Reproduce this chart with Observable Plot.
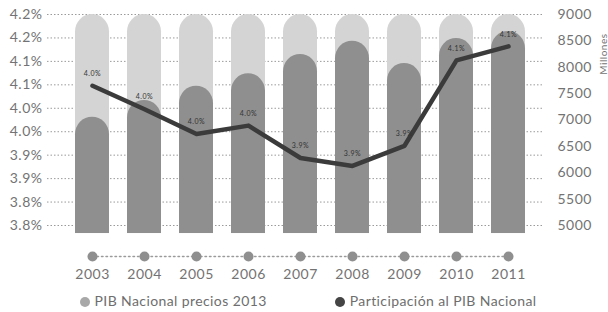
<!DOCTYPE html>
<html><head><meta charset="utf-8">
<script src="https://cdn.jsdelivr.net/npm/d3@7"></script>
<script src="https://cdn.jsdelivr.net/npm/@observablehq/plot@0.6"></script>
<style>
html,body{margin:0;padding:0;background:#fff;}
#chart{width:608px;}
#legend{display:flex;justify-content:center;align-items:center;gap:68px;height:24px;font-family:Lato,sans-serif;font-size:14px;color:#6e6e6e;letter-spacing:0.4px;margin-left:8px;}
#legend span.sw{display:inline-block;width:10px;height:10px;border-radius:50%;margin-right:5px;vertical-align:-1px;}
</style></head>
<body><div id="chart"></div>
<div id="legend"></div>
<script>
// ---- data ----
const years = ["2003","2004","2005","2006","2007","2008","2009","2010","2011"];
const pibMillones = [7053, 7370, 7641, 7876, 8242, 8494, 8071, 8545, 8678];
const participacion = [4.073, 4.023, 3.970, 3.988, 3.919, 3.902, 3.945, 4.127, 4.157];
const participacionLabels = ["4.0%","4.0%","4.0%","4.0%","3.9%","3.9%","3.9%","4.1%","4.1%"];
const leftTicks = [3.775, 3.825, 3.875, 3.925, 3.975, 4.025, 4.075, 4.125, 4.175, 4.225];
const rightTicks = [5000, 5500, 6000, 6500, 7000, 7500, 8000, 8500, 9000];
const seriesNames = ["PIB Nacional precios 2013", "Participación al PIB Nacional"];
const pibMax = 9000;
const pibBase = 4848;

// ---- build ----
const colors = {light:"#d4d4d4", dark:"#8f8f8f", line:"#3b3b3b", text:"#737373"};
const toRight = d3.scaleLinear([leftTicks[0], leftTicks[leftTicks.length-1]], [rightTicks[0], rightTicks[rightTicks.length-1]]);
const data = years.map((year, i) => ({year, pib: pibMillones[i], pct: participacion[i], label: participacionLabels[i]}));
const r = 17.5;

const chart = Plot.plot({
  width: 608,
  height: 288,
  marginLeft: 47,
  marginRight: 65,
  marginTop: 14,
  marginBottom: 63,
  style: {fontFamily: "Lato, sans-serif", fontSize: "14px", color: colors.text, background: "#fff", letterSpacing: "0.5px"},
  x: {type: "band", domain: years, paddingInner: 0.338, paddingOuter: 0.357, align: 0.61},
  y: {domain: [rightTicks[0], rightTicks[rightTicks.length-1]]},
  marks: [
    Plot.ruleY(leftTicks.map(toRight), {stroke: "#9a9a9a", strokeDasharray: "1.5,2", strokeWidth: 1}),
    Plot.barY(data, {x: "year", y1: pibBase, y2: pibMax, fill: colors.light, rx: r}),
    Plot.barY(data, {x: "year", y1: pibBase, y2: 7000, fill: colors.light}),
    Plot.barY(data, {x: "year", y1: pibBase, y2: "pib", fill: colors.dark, rx: r}),
    Plot.barY(data, {x: "year", y1: pibBase, y2: 6500, fill: colors.dark}),
    Plot.line(data, {x: "year", y: d => toRight(d.pct), stroke: colors.line, strokeWidth: 4.5, strokeLinejoin: "round", strokeLinecap: "round"}),
    Plot.text(data, {x: "year", y: d => toRight(d.pct), text: "label", dy: -12, fontSize: 7, fill: "#333", letterSpacing: "0px"}),
    Plot.line(data, {x: "year", y: () => rightTicks[0], dy: 31, stroke: "#9a9a9a", strokeDasharray: "1.5,3"}),
    Plot.dot(data, {x: "year", frameAnchor: "bottom", dy: 31, r: 5, fill: colors.dark}),
    Plot.axisX({tickSize: 0, tickPadding: 44, fontSize: 14, label: null}),
    Plot.axisY({anchor: "left", ticks: leftTicks.map(toRight), tickSize: 0, tickPadding: 5, fontSize: 14, label: null,
      tickFormat: v => toRight.invert(v).toFixed(1) + "%"}),
    Plot.axisY({anchor: "right", ticks: rightTicks, tickSize: 0, tickPadding: 14, fontSize: 14, label: null,
      tickFormat: d3.format("d")}),
    Plot.text(["Millones"], {frameAnchor: "top-right", dx: 56, dy: 19, rotate: -90, fontSize: 10, fill: colors.text})
  ]
});
document.getElementById("chart").append(chart);

const legend = document.getElementById("legend");
seriesNames.forEach((name, i) => {
  const item = document.createElement("div");
  const sw = document.createElement("span");
  sw.className = "sw";
  sw.style.background = i === 0 ? "#a8a8a8" : "#444";
  item.append(sw, document.createTextNode(name));
  legend.append(item);
});
</script>
</body></html>
